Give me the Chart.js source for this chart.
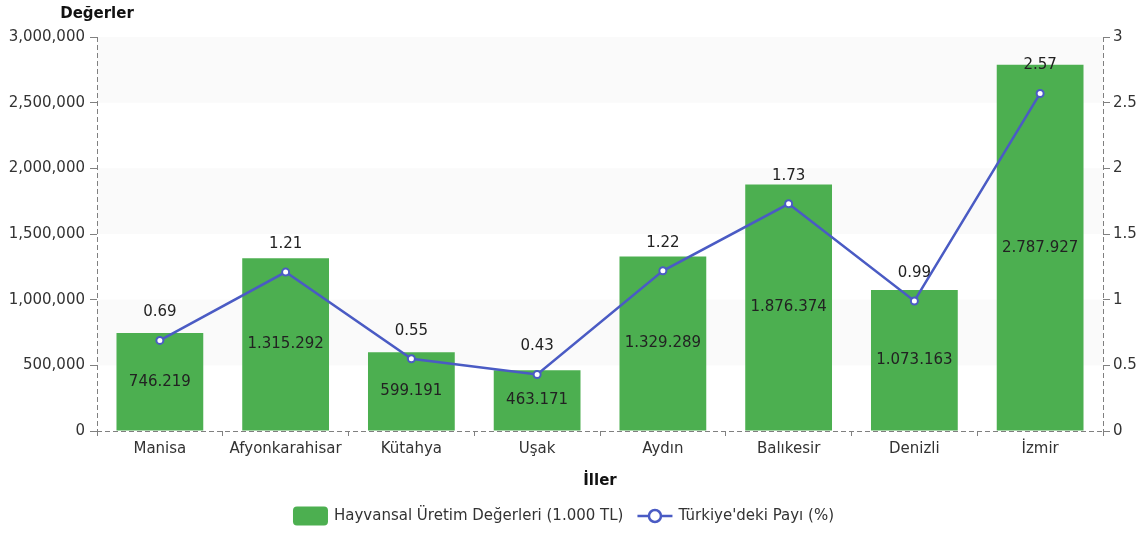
<!DOCTYPE html>
<html>
<head>
<meta charset="utf-8">
<script src="https://cdn.jsdelivr.net/npm/chart.js@4.4.1/dist/chart.umd.min.js"></script>
<style>
  html, body { margin: 0; padding: 0; background: #fff; }
  #wrap { width: 1147px; height: 533px; }
</style>
</head>
<body>
<div id="wrap"><canvas id="chart" width="1147" height="533"></canvas></div>
<script>
const iller = ["Manisa", "Afyonkarahisar", "Kütahya", "Uşak", "Aydın", "Balıkesir", "Denizli", "İzmir"];
const uretimDegerleri = [746219, 1315292, 599191, 463171, 1329289, 1876374, 1073163, 2787927];
const turkiyePayi = [0.69, 1.21, 0.55, 0.43, 1.22, 1.73, 0.99, 2.57];

const FONT = "'DejaVu Sans', sans-serif";
const GREEN = "#4caf50";
const BLUE = "#4a5bc4";
const AXIS = "#808080";

// alternating background bands
const bandsPlugin = {
  id: "bands",
  beforeDatasetsDraw(chart) {
    const { ctx, chartArea, scales } = chart;
    const ys = scales.y;
    const ticks = ys.ticks;
    ctx.save();
    ctx.fillStyle = "#fafafa";
    for (let i = 0; i < ticks.length - 1; i++) {
      if (i % 2 === 1) {
        const y0 = ys.getPixelForValue(ticks[i].value);
        const y1 = ys.getPixelForValue(ticks[i + 1].value);
        ctx.fillRect(chartArea.left, y1, chartArea.right - chartArea.left, y0 - y1);
      }
    }
    ctx.restore();
  }
};

// value labels, dashed axis lines, axis names and legend
const labelsPlugin = {
  id: "labels",
  afterDraw(chart) {
    const { ctx, chartArea } = chart;
    const { left, right, top, bottom } = chartArea;
    ctx.save();

    // dashed axis lines
    ctx.strokeStyle = AXIS;
    ctx.lineWidth = 1;
    ctx.setLineDash([5, 3]);
    ctx.beginPath();
    ctx.moveTo(left + 0.5, top);
    ctx.lineTo(left + 0.5, bottom);
    ctx.moveTo(right + 0.5, top);
    ctx.lineTo(right + 0.5, bottom);
    ctx.moveTo(left, bottom + 0.5);
    ctx.lineTo(right, bottom + 0.5);
    ctx.stroke();
    ctx.setLineDash([]);

    ctx.font = "15px " + FONT;
    ctx.fillStyle = "#222";
    ctx.textAlign = "center";
    ctx.textBaseline = "middle";
    chart.getDatasetMeta(1).data.forEach((el, i) => {
      const txt = uretimDegerleri[i].toLocaleString("de-DE");
      ctx.fillText(txt, el.x, (el.y + el.base) / 2);
    });
    chart.getDatasetMeta(0).data.forEach((el, i) => {
      ctx.fillText(turkiyePayi[i].toFixed(2), el.x, el.y - 28);
    });

    // axis names
    ctx.font = "bold 15px " + FONT;
    ctx.fillStyle = "#111";
    ctx.fillText("Değerler", left, 14);
    ctx.fillText("İller", (left + right) / 2, 481);

    // legend
    ctx.font = "15px " + FONT;
    const t1 = chart.data.datasets[1].label;
    const t2 = chart.data.datasets[0].label;
    const w1 = ctx.measureText(t1).width;
    const w2 = ctx.measureText(t2).width;
    const total = 35 + 6 + w1 + 14 + 35 + 6 + w2;
    let x = (chart.width - total) / 2 - 10;
    const ly = 516;
    ctx.fillStyle = GREEN;
    ctx.beginPath();
    ctx.roundRect(x, ly - 9.5, 35, 19, 4);
    ctx.fill();
    x += 41;
    ctx.fillStyle = "#333";
    ctx.textAlign = "left";
    ctx.fillText(t1, x, ly);
    x += w1 + 14;
    ctx.strokeStyle = BLUE;
    ctx.lineWidth = 2.5;
    ctx.beginPath();
    ctx.moveTo(x, ly);
    ctx.lineTo(x + 35, ly);
    ctx.stroke();
    ctx.beginPath();
    ctx.arc(x + 17.5, ly, 6, 0, Math.PI * 2);
    ctx.fillStyle = "#fff";
    ctx.fill();
    ctx.stroke();
    x += 41;
    ctx.fillStyle = "#333";
    ctx.fillText(t2, x, ly);
    ctx.restore();
  }
};

new Chart(document.getElementById("chart"), {
  data: {
    labels: iller,
    datasets: [
      {
        type: "line",
        label: "Türkiye'deki Payı (%)",
        data: turkiyePayi,
        yAxisID: "y1",
        borderColor: BLUE,
        borderWidth: 2.5,
        pointRadius: 3.5,
        pointBorderWidth: 2,
        pointBackgroundColor: "#fff",
        pointBorderColor: BLUE,
        tension: 0,
        order: 0
      },
      {
        type: "bar",
        label: "Hayvansal Üretim Değerleri (1.000 TL)",
        data: uretimDegerleri,
        yAxisID: "y",
        backgroundColor: GREEN,
        barPercentage: 0.69,
        categoryPercentage: 1,
        order: 1
      }
    ]
  },
  options: {
    responsive: false,
    animation: false,
    locale: "en-US",
    layout: { padding: { top: 37, left: 0, right: 0, bottom: 0 } },
    plugins: {
      legend: { display: false },
      tooltip: { enabled: false }
    },
    scales: {
      x: {
        offset: true,
        grid: {
          offset: true,
          drawOnChartArea: false,
          tickLength: 5,
          color: AXIS
        },
        border: { display: false },
        ticks: { color: "#333", padding: 4, font: { family: FONT, size: 15 } },
        afterFit(scale) { scale.height = 102; }
      },
      y: {
        position: "left",
        min: 0,
        max: 3000000,
        ticks: { stepSize: 500000, color: "#333", padding: 5, font: { family: FONT, size: 15 } },
        grid: { drawOnChartArea: false, tickLength: 7, color: AXIS },
        border: { display: false },
        afterFit(scale) { scale.width = 97; }
      },
      y1: {
        position: "right",
        min: 0,
        max: 3,
        ticks: {
          stepSize: 0.5,
          color: "#333",
          padding: 3,
          font: { family: FONT, size: 15 },
          callback: (v) => String(v)
        },
        grid: { drawOnChartArea: false, tickLength: 7, color: AXIS },
        border: { display: false },
        afterFit(scale) { scale.width = 44; }
      }
    }
  },
  plugins: [bandsPlugin, labelsPlugin]
});
</script>
</body>
</html>
